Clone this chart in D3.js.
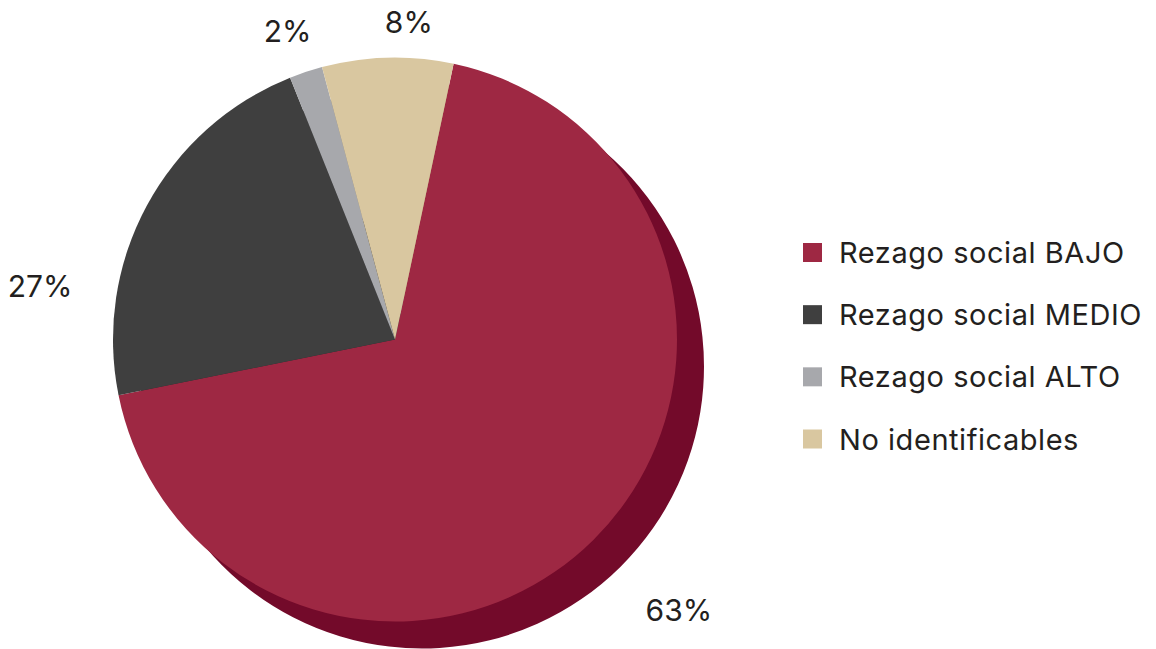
<!DOCTYPE html>
<html>
<head>
<meta charset="utf-8">
<script src="https://cdn.jsdelivr.net/npm/d3@7"></script>
<style>
  body { margin: 0; background: #fff; }
  svg { display: block; font-family: Inter, Lato, "Noto Sans", sans-serif; font-variant-ligatures: none; }
</style>
</head>
<body>
<div id="chart"></div>
<script>
// chart data
const categories = ["Rezago social BAJO", "Rezago social MEDIO", "Rezago social ALTO", "No identificables"]
// slice sizes as drawn in the picture (share of the circle)
const shares = [68.5, 22.1, 1.9, 7.5]
// percentages printed next to the slices
const pctLabels = ["63%", "27%", "2%", "8%"]

const colors = ["#9e2843", "#3f3f3f", "#a7a8ac", "#d9c7a0"]
const shadowColors = ["#730a2a", "#2a2a2a", "#7d7e82", "#a8996f"]

const width = 1156
const height = 649
const cx = 395, cy = 339.5
const radius = 282
const depth = 27

// label placement relative to each slice's mid angle (radius, angle nudge in degrees)
const labelLayout = [
  {r: 392, da: -1.7},
  {r: 359, da: -19.8},
  {r: 326, da: -0.8},
  {r: 318, da: 4.0}
]

const svg = d3.select("#chart")
  .append("svg")
  .attr("width", width)
  .attr("height", height)

const start = 12 * Math.PI / 180
const pie = d3.pie()
  .sort(null)
  .value(d => d)
  .startAngle(start)
  .endAngle(start + 2 * Math.PI)

const arcs = pie(shares)
const arc = d3.arc().innerRadius(0).outerRadius(radius)

// darker copy shifted down-right gives the thickness
svg.append("g")
  .attr("transform", `translate(${cx + depth},${cy + depth})`)
  .selectAll("path")
  .data(arcs)
  .join("path")
  .attr("d", arc)
  .attr("fill", (d, i) => shadowColors[i])

svg.append("g")
  .attr("transform", `translate(${cx},${cy})`)
  .selectAll("path")
  .data(arcs)
  .join("path")
  .attr("d", arc)
  .attr("fill", (d, i) => colors[i])

// percentage labels
svg.append("g")
  .attr("transform", `translate(${cx},${cy})`)
  .selectAll("text")
  .data(arcs)
  .join("text")
  .attr("x", (d, i) => {
    const a = (d.startAngle + d.endAngle) / 2 + labelLayout[i].da * Math.PI / 180
    return Math.sin(a) * labelLayout[i].r
  })
  .attr("y", (d, i) => {
    const a = (d.startAngle + d.endAngle) / 2 + labelLayout[i].da * Math.PI / 180
    return -Math.cos(a) * labelLayout[i].r
  })
  .attr("dy", "0.36em")
  .attr("text-anchor", "middle")
  .attr("font-size", 30)
  .attr("fill", "#231f20")
  .text((d, i) => pctLabels[i])

// legend
const ly = d3.scalePoint()
  .domain(categories)
  .range([252.5, 439])

const legend = svg.append("g")
  .selectAll("g")
  .data(categories)
  .join("g")
  .attr("transform", d => `translate(803,${ly(d)})`)

legend.append("rect")
  .attr("x", 0)
  .attr("y", -9.5)
  .attr("width", 19)
  .attr("height", 19)
  .attr("fill", (d, i) => colors[i])

legend.append("text")
  .attr("x", 36)
  .attr("y", 10.5)
  .attr("font-size", 29)
  .attr("letter-spacing", 0.55)
  .attr("fill", "#231f20")
  .text(d => d)
</script>
</body>
</html>
